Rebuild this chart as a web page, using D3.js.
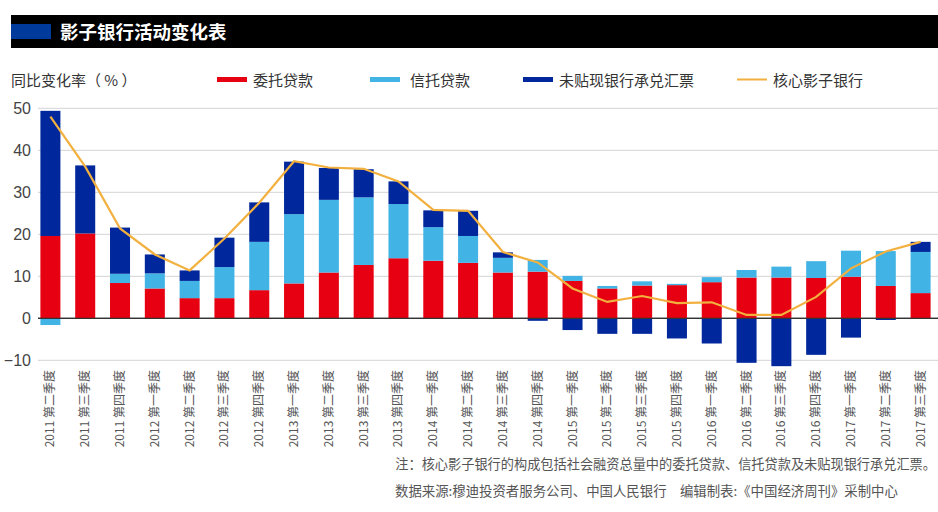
<!DOCTYPE html>
<html><head><meta charset="utf-8">
<script src="https://cdn.jsdelivr.net/npm/d3@7"></script>
<style>body{margin:0;background:#fff;}svg{display:block;font-family:"Noto Sans CJK SC","Noto Sans",sans-serif;}</style>
</head><body><svg id="c" width="938" height="512"></svg>
<script>
const categories = ["2011 第二季度","2011 第三季度","2011 第四季度","2012 第一季度","2012 第二季度","2012 第三季度","2012 第四季度","2013 第一季度","2013 第二季度","2013 第三季度","2013 第四季度","2014 第一季度","2014 第二季度","2014 第三季度","2014 第四季度","2015 第一季度","2015 第二季度","2015 第三季度","2015 第四季度","2016 第一季度","2016 第二季度","2016 第三季度","2016 第四季度","2017 第一季度","2017 第二季度","2017 第三季度"];
const entrusted = [19.6,20.2,8.4,7.1,4.8,4.8,6.7,8.3,10.9,12.7,14.3,13.7,13.2,10.9,11.1,8.9,7.1,7.8,7.9,8.6,9.7,9.7,9.6,9.9,7.7,6.0];
const trust = [-1.6,0.0,2.2,3.6,4.1,7.4,11.5,16.5,17.3,16.1,12.9,8.0,6.4,3.5,2.8,1.2,0.6,1.0,0.3,1.2,1.8,2.6,4.0,6.2,8.3,9.8];
const bills = [29.8,16.2,11.0,4.5,2.5,7.0,9.4,12.5,7.6,6.7,5.4,4.0,6.0,1.3,-0.6,-2.8,-3.7,-3.7,-4.8,-6.0,-10.6,-11.4,-8.7,-4.6,-0.4,2.4];
const core = [48.0,36.1,21.4,15.2,11.4,19.0,27.5,37.4,35.9,35.6,32.6,25.8,25.6,15.8,13.3,7.1,3.9,5.3,3.6,3.8,0.8,0.8,5.1,11.9,15.9,18.2];
const yTicks = [-10,0,10,20,30,40,50];
const seriesNames = ["委托贷款","信托贷款","未贴现银行承兑汇票","核心影子银行"];
const colors = ["#e60012","#41b3e5","#00279b","#f2b03f"];

const svg = d3.select("#c");
// title bar
svg.append("rect").attr("x",11).attr("y",15).attr("width",927).attr("height",33).attr("fill","#000");
svg.append("rect").attr("x",11).attr("y",24).attr("width",40).attr("height",15).attr("fill","#003a9a");
svg.append("text").attr("x",60).attr("y",38.5).attr("fill","#fff").attr("font-size",18.5).attr("font-weight","bold").text("影子银行活动变化表");

// unit label
svg.append("text").attr("x",11).attr("y",86).attr("fill","#333").attr("font-size",15).text("同比变化率（ % ）");

// legend
const leg = [{x:217,t:0},{x:370,t:1},{x:523,t:2},{x:737,t:3}];
leg.forEach(l=>{
  if(l.t<3) svg.append("rect").attr("x",l.x).attr("y",77).attr("width",30).attr("height",5).attr("fill",colors[l.t]);
  else svg.append("rect").attr("x",l.x).attr("y",78.5).attr("width",30).attr("height",2).attr("fill",colors[l.t]);
  svg.append("text").attr("x",l.x+ (l.t==1?40:36)).attr("y",86).attr("fill","#333").attr("font-size",15).text(seriesNames[l.t]);
});

const x = d3.scaleBand().domain(categories).range([33,938]).paddingInner(0.425).paddingOuter(0.2125);
const y = d3.scaleLinear().domain([-10,50]).range([360.3,108.3]);

// grid
const grid = svg.append("g");
yTicks.forEach(t=>{
  grid.append("line").attr("x1",38).attr("x2",938).attr("y1",y(t)).attr("y2",y(t))
    .attr("stroke",t===0?"#333":"#d4d4d4").attr("stroke-width",t===0?1.2:1);
});
const yAxis = d3.axisLeft(y).tickValues(yTicks).tickSize(0).tickFormat(d=>d<0?"−"+Math.abs(d):d);
const ya = svg.append("g").attr("transform","translate(33,0)").call(yAxis);
ya.select(".domain").remove();
ya.selectAll("text").attr("font-size",16).attr("fill","#444").attr("x",-2).attr("font-family","Liberation Sans, Arial, sans-serif");

// stacked bars (pos/neg stacking)
const data = categories.map((c,i)=>({c, v:[entrusted[i],trust[i],bills[i]]}));
const bars = svg.append("g");
data.forEach(d=>{
  let pos=0, neg=0;
  d.v.forEach((v,k)=>{
    let y0,y1;
    if(v>=0){y0=pos;y1=pos+v;pos=y1;} else {y0=neg;y1=neg+v;neg=y1;}
    bars.append("rect").attr("x",x(d.c)).attr("width",x.bandwidth())
      .attr("y",y(Math.max(y0,y1))).attr("height",Math.abs(y(y0)-y(y1)))
      .attr("fill",colors[k]);
  });
});
// redraw zero line over bars
svg.append("line").attr("x1",38).attr("x2",938).attr("y1",y(0)).attr("y2",y(0)).attr("stroke","#333").attr("stroke-width",1.2);

// line
const line = d3.line().x((d,i)=>x(categories[i])+x.bandwidth()/2).y(d=>y(d));
svg.append("path").datum(core).attr("d",line).attr("fill","none").attr("stroke",colors[3]).attr("stroke-width",2.2);

// x labels
const xl = svg.append("g");
categories.forEach(c=>{
  xl.append("text").attr("transform",`translate(${x(c)+x.bandwidth()/2+4},370) rotate(-90)`)
    .attr("text-anchor","end").attr("font-size",12).attr("fill","#555").text(c);
});

// notes
svg.append("text").attr("x",936).attr("y",469).attr("text-anchor","end").attr("font-size",13.2).attr("fill","#555")
  .text("注：核心影子银行的构成包括社会融资总量中的委托贷款、信托贷款及未贴现银行承兑汇票。");
svg.append("text").attr("x",395).attr("y",496).attr("font-size",13.4).attr("fill","#555")
  .text("数据来源:穆迪投资者服务公司、中国人民银行　编辑制表:《中国经济周刊》采制中心");
</script></body></html>
